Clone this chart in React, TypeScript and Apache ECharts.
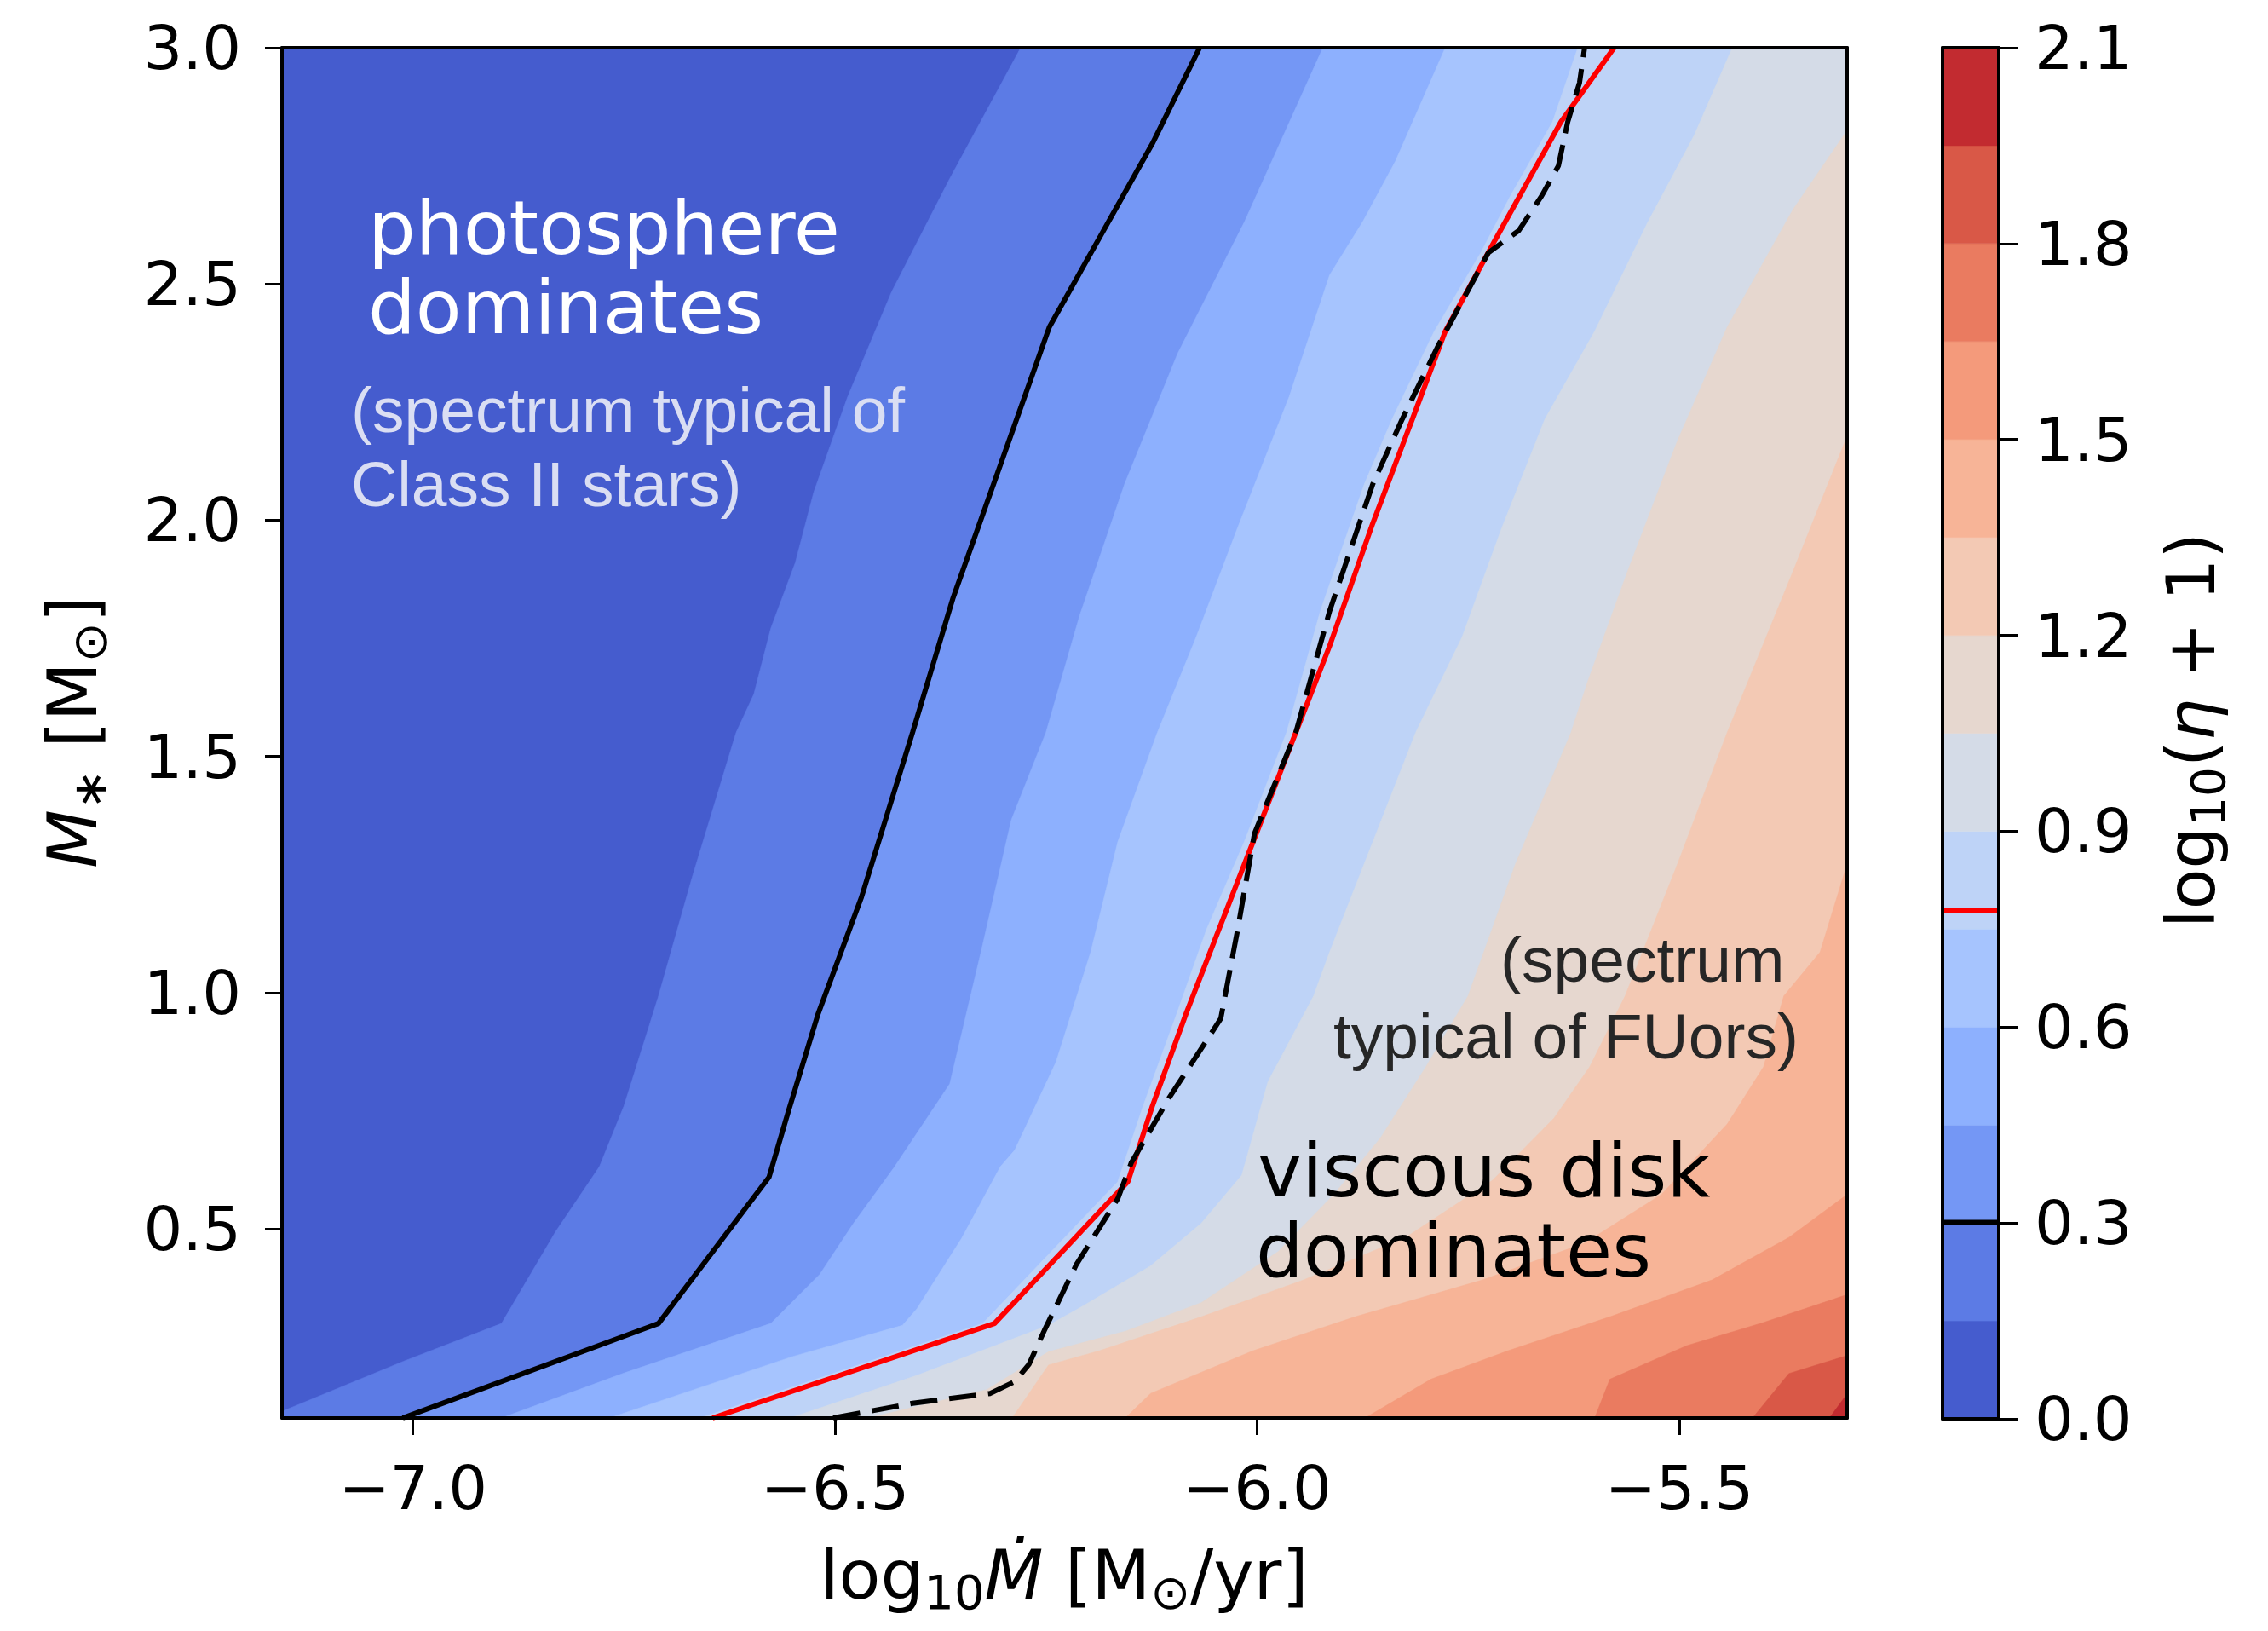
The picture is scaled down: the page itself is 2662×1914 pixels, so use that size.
import React, { useEffect, useRef } from "react";
import * as echarts from "echarts";

// ---- axes ranges ----
const X_MIN = -7.155; // log10(7e-8)
const X_MAX = -5.301; // log10(5e-6)
const Y_MIN = 0.1;
const Y_MAX = 3.0;

// ---- tick labels ----
const X_TICKS = [-7.0, -6.5, -6.0, -5.5];
const Y_TICKS = [0.5, 1.0, 1.5, 2.0, 2.5, 3.0];
const CBAR_TICKS = [0.0, 0.3, 0.6, 0.9, 1.2, 1.5, 1.8, 2.1];

// ---- contour levels of log10(eta+1) and their colours (coolwarm) ----
const LEVELS = [0, 0.15, 0.3, 0.45, 0.6, 0.75, 0.9, 1.05, 1.2, 1.35, 1.5, 1.65, 1.8, 1.95, 2.1];
const BAND_COLORS = [
  "#455cce", "#5c7be5", "#7497f5", "#8db0fe", "#a6c4fe", "#bed3f7", "#d4dbe7",
  "#e6d7cf", "#f3c9b4", "#f7b497", "#f49a7b", "#ea7b60", "#d95847", "#c22b30",
];

// highlighted contour levels
const ETA1_LEVEL = 0.301; // log10(1+1)
const ETA5_LEVEL = 0.778; // log10(5+1)

// ---- highlighted contours (log10 Mdot, M*) ----
const CONTOUR_ETA1 = [
  [-7.012, 0.1], [-6.709, 0.3], [-6.578, 0.61], [-6.555, 0.75], [-6.52, 0.955], [-6.469, 1.2],
  [-6.408, 1.551], [-6.36, 1.836], [-6.303, 2.122], [-6.246, 2.409], [-6.185, 2.603],
  [-6.124, 2.797], [-6.068, 3.0],
];
const CONTOUR_ETA5 = [
  [-6.645, 0.1], [-6.311, 0.3], [-6.153, 0.6], [-6.124, 0.76], [-6.084, 0.956], [-6.015, 1.272],
  [-5.954, 1.551], [-5.914, 1.734], [-5.863, 1.993], [-5.816, 2.214], [-5.777, 2.4],
  [-5.718, 2.593], [-5.64, 2.843], [-5.577, 3.0],
];
const CONTOUR_DASHED = [
  [-6.502, 0.1], [-6.408, 0.131], [-6.316, 0.152], [-6.287, 0.177], [-6.27, 0.214], [-6.252, 0.285],
  [-6.214, 0.425], [-6.165, 0.564], [-6.149, 0.64], [-6.104, 0.778], [-6.043, 0.945],
  [-6.023, 1.133], [-6.003, 1.337], [-5.954, 1.551], [-5.914, 1.808], [-5.863, 2.076],
  [-5.828, 2.214], [-5.785, 2.371], [-5.726, 2.566], [-5.69, 2.613], [-5.663, 2.686],
  [-5.643, 2.75], [-5.632, 2.843], [-5.618, 2.926], [-5.612, 3.0],
];

// ---- filled-contour boundaries, from bottom/left end to top/right end ----
const B_015 = [
  [-7.155, 0.114], [-7.011, 0.22], [-6.895, 0.3], [-6.831, 0.494], [-6.779, 0.632], [-6.75, 0.76],
  [-6.709, 0.993], [-6.669, 1.245], [-6.617, 1.551], [-6.596, 1.632], [-6.576, 1.771],
  [-6.547, 1.91], [-6.525, 2.06], [-6.485, 2.261], [-6.433, 2.483], [-6.364, 2.723], [-6.28, 3.0],
];
const B_030 = CONTOUR_ETA1;
const B_045 = [
  [-6.895, 0.1], [-6.75, 0.195], [-6.576, 0.3], [-6.518, 0.404], [-6.478, 0.512], [-6.43, 0.63],
  [-6.364, 0.807], [-6.327, 1.086], [-6.291, 1.366], [-6.25, 1.551], [-6.21, 1.799],
  [-6.157, 2.076], [-6.094, 2.353], [-6.015, 2.631], [-5.922, 3.0],
];
const B_060 = [
  [-6.767, 0.1], [-6.55, 0.23], [-6.42, 0.296], [-6.403, 0.331], [-6.35, 0.48], [-6.304, 0.632],
  [-6.287, 0.667], [-6.238, 0.854], [-6.197, 1.086], [-6.165, 1.319], [-6.118, 1.551],
  [-6.072, 1.753], [-6.023, 1.984], [-5.962, 2.261], [-5.914, 2.519], [-5.875, 2.631],
  [-5.836, 2.76], [-5.777, 3.0],
];
const B_075 = [
  [-6.66, 0.1], [-6.325, 0.3], [-6.165, 0.6], [-6.135, 0.76], [-6.095, 0.956], [-6.06, 1.133],
  [-6.015, 1.32], [-5.965, 1.551], [-5.925, 1.808], [-5.873, 2.076], [-5.84, 2.214],
  [-5.79, 2.4], [-5.735, 2.566], [-5.7, 2.686], [-5.65, 2.843], [-5.62, 3.0],
];
const B_090 = [
  [-6.553, 0.1], [-6.403, 0.19], [-6.247, 0.296], [-6.211, 0.332], [-6.126, 0.422], [-6.066, 0.512],
  [-6.018, 0.614], [-5.987, 0.812], [-5.933, 0.993], [-5.914, 1.086], [-5.812, 1.551],
  [-5.757, 1.753], [-5.71, 1.984], [-5.659, 2.214], [-5.6, 2.4], [-5.537, 2.631],
  [-5.482, 2.815], [-5.437, 3.0],
];
const B_105 = [
  [-6.46, 0.1], [-6.32, 0.16], [-6.247, 0.24], [-6.155, 0.284], [-6.066, 0.344], [-5.975, 0.452],
  [-5.909, 0.573], [-5.854, 0.692], [-5.8, 0.843], [-5.75, 0.993], [-5.694, 1.272],
  [-5.628, 1.551], [-5.608, 1.66], [-5.561, 1.892], [-5.502, 2.168], [-5.443, 2.409],
  [-5.365, 2.658], [-5.301, 2.825],
];
const B_120 = [
  [-6.29, 0.1], [-6.247, 0.212], [-6.187, 0.242], [-6.066, 0.314], [-5.945, 0.392], [-5.824, 0.482],
  [-5.721, 0.603], [-5.648, 0.735], [-5.606, 0.843], [-5.564, 0.993], [-5.502, 1.272],
  [-5.443, 1.551], [-5.365, 1.892], [-5.301, 2.178],
];
const B_135 = [
  [-6.156, 0.1], [-6.126, 0.152], [-6.005, 0.242], [-5.884, 0.314], [-5.733, 0.392], [-5.612, 0.47],
  [-5.521, 0.573], [-5.443, 0.722], [-5.4, 0.843], [-5.376, 0.993], [-5.333, 1.086], [-5.301, 1.272],
];
const B_150 = [
  [-5.872, 0.1], [-5.794, 0.182], [-5.703, 0.242], [-5.582, 0.314], [-5.461, 0.392], [-5.37, 0.482],
  [-5.301, 0.573],
];
const B_165 = [[-5.6, 0.1], [-5.582, 0.182], [-5.491, 0.253], [-5.4, 0.302], [-5.301, 0.361]];
const B_180 = [[-5.413, 0.1], [-5.37, 0.194], [-5.301, 0.232]];
const B_195 = [[-5.322, 0.1], [-5.301, 0.151]];

const BOUNDARIES = [B_015, B_030, B_045, B_060, B_075, B_090, B_105, B_120, B_135, B_150, B_165, B_180, B_195];

// ---- helpers: region of higher values (right / below a boundary) ----
function perimS(p: number[]) {
  const [x, y] = p;
  const W = X_MAX - X_MIN;
  const H = Y_MAX - Y_MIN;
  const d = [Math.abs(y - Y_MAX) / H, Math.abs(x - X_MAX) / W, Math.abs(y - Y_MIN) / H, Math.abs(x - X_MIN) / W];
  let k = 0;
  for (let j = 1; j < 4; j++) if (d[j] < d[k]) k = j;
  if (k === 0) return (x - X_MIN) / W;
  if (k === 1) return 1 + (Y_MAX - y) / H;
  if (k === 2) return 2 + (X_MAX - x) / W;
  return 3 + (y - Y_MIN) / H;
}
const CORNERS: [number, number[]][] = [
  [1, [X_MAX, Y_MAX]],
  [2, [X_MAX, Y_MIN]],
  [3, [X_MIN, Y_MIN]],
];
function regionAbove(b: number[][]) {
  const sEnd = perimS(b[b.length - 1]);
  const sStart = perimS(b[0]);
  const pts = b.slice();
  for (const [s, c] of CORNERS) if (s > sEnd && s < sStart) pts.push(c);
  return pts;
}

const FONT = "DejaVu Sans";
const ARIAL = "Liberation Sans";

export default function App() {
  const ref = useRef<HTMLDivElement>(null);
  useEffect(() => {
    document.body.style.margin = "0";
    const chart = echarts.init(ref.current!, null, { renderer: "svg" });

    const axisLineStyle = { color: "#000", width: 4 };
    const tickLabel = { fontSize: 72, fontFamily: FONT, color: "#000" };
    const fmt1 = (v: number) => (v < 0 ? "\u2212" : "") + Math.abs(v).toFixed(1);

    const frameAxis = (gridIndex: number, position: string, min: number, max: number) => ({
      gridIndex, type: "value", position, min, max, z: 10,
      axisLine: { show: true, onZero: false, lineStyle: axisLineStyle },
      axisTick: { show: false }, axisLabel: { show: false }, splitLine: { show: false },
    });

    const labelRich = (size: number) => ({
      a: { fontSize: size, fontFamily: FONT, fill: "#000", lineHeight: size, verticalAlign: "top" },
      i: { fontSize: size, fontFamily: FONT, fontStyle: "italic", fill: "#000", lineHeight: size, verticalAlign: "top" },
      s: { fontSize: Math.round(size * 0.7), fontFamily: FONT, fill: "#000", lineHeight: Math.round(size * 0.7), padding: [Math.round(size * 0.4), 0, 0, 0], verticalAlign: "top" },
    });

    const option: any = {
      animation: false,
      backgroundColor: "#fff",
      grid: [
        { left: 331, top: 56, width: 1837, height: 1608 },
        { left: 2280, top: 56, width: 66, height: 1609 },
      ],
      xAxis: [
        {
          gridIndex: 0, type: "value", position: "bottom", min: X_MIN, max: X_MAX, z: 10,
          axisLine: { show: true, onZero: false, lineStyle: axisLineStyle },
          axisTick: { show: true, length: 20, lineStyle: { color: "#000", width: 3 }, customValues: X_TICKS },
          axisLabel: { ...tickLabel, margin: 46, customValues: X_TICKS, formatter: fmt1 },
          splitLine: { show: false },
        },
        frameAxis(0, "top", X_MIN, X_MAX),
        frameAxis(1, "bottom", 0, 1),
        frameAxis(1, "top", 0, 1),
      ],
      yAxis: [
        {
          gridIndex: 0, type: "value", position: "left", min: Y_MIN, max: Y_MAX, z: 10,
          axisLine: { show: true, onZero: false, lineStyle: axisLineStyle },
          axisTick: { show: true, length: 20, lineStyle: { color: "#000", width: 3 }, customValues: Y_TICKS },
          axisLabel: { ...tickLabel, margin: 48, customValues: Y_TICKS, formatter: fmt1 },
          splitLine: { show: false },
        },
        frameAxis(0, "right", Y_MIN, Y_MAX),
        frameAxis(1, "left", LEVELS[0], LEVELS[LEVELS.length - 1]),
        {
          gridIndex: 1, type: "value", position: "right", min: LEVELS[0], max: LEVELS[LEVELS.length - 1], z: 10,
          axisLine: { show: true, onZero: false, lineStyle: axisLineStyle },
          axisTick: { show: true, length: 22, lineStyle: { color: "#000", width: 3 }, customValues: CBAR_TICKS },
          axisLabel: { ...tickLabel, margin: 42, customValues: CBAR_TICKS, formatter: fmt1 },
          splitLine: { show: false },
        },
      ],
      series: [
        {
          type: "custom", name: "filled contours", xAxisIndex: 0, yAxisIndex: 0, clip: true, silent: true,
          data: BAND_COLORS.map((_, i) => [X_MIN, Y_MIN, i]),
          encode: { x: 0, y: 1 },
          renderItem: (_p: any, api: any) => {
            const i = api.value(2);
            const pts = i === 0
              ? [[X_MIN, Y_MIN], [X_MAX, Y_MIN], [X_MAX, Y_MAX], [X_MIN, Y_MAX]]
              : regionAbove(BOUNDARIES[i - 1]);
            return {
              type: "polygon",
              shape: { points: pts.map((p) => api.coord(p)) },
              style: { fill: BAND_COLORS[i], stroke: BAND_COLORS[i], lineWidth: 0.6 },
            };
          },
        },
        {
          type: "line", name: "eta=1", xAxisIndex: 0, yAxisIndex: 0, data: CONTOUR_ETA1,
          symbol: "none", silent: true, z: 4, lineStyle: { color: "#000", width: 6 },
        },
        {
          type: "line", name: "eta=5", xAxisIndex: 0, yAxisIndex: 0, data: CONTOUR_ETA5,
          symbol: "none", silent: true, z: 4, lineStyle: { color: "#ff0000", width: 6 },
        },
        {
          type: "line", name: "dashed", xAxisIndex: 0, yAxisIndex: 0, data: CONTOUR_DASHED,
          symbol: "none", silent: true, z: 5, lineStyle: { color: "#000", width: 6, type: [32, 14] },
        },
        {
          type: "custom", name: "colorbar", xAxisIndex: 2, yAxisIndex: 3, clip: true, silent: true,
          data: BAND_COLORS.map((_, i) => [0, LEVELS[i], LEVELS[i + 1], i]),
          encode: { x: 0, y: [1, 2] },
          renderItem: (_p: any, api: any) => {
            const a = api.coord([0, api.value(1)]);
            const b = api.coord([1, api.value(2)]);
            const i = api.value(3);
            return {
              type: "rect",
              shape: { x: a[0], y: b[1], width: b[0] - a[0], height: a[1] - b[1] },
              style: { fill: BAND_COLORS[i], stroke: BAND_COLORS[i], lineWidth: 0.6 },
            };
          },
        },
        {
          type: "line", xAxisIndex: 2, yAxisIndex: 3, data: [[0, ETA1_LEVEL], [1, ETA1_LEVEL]],
          symbol: "none", silent: true, z: 4, lineStyle: { color: "#000", width: 6 },
        },
        {
          type: "line", xAxisIndex: 2, yAxisIndex: 3, data: [[0, ETA5_LEVEL], [1, ETA5_LEVEL]],
          symbol: "none", silent: true, z: 4, lineStyle: { color: "#ff0000", width: 6 },
        },
      ],
      graphic: [
        { type: "text", x: 432, y: 267, z: 100, style: { text: "photosphere", fill: "#ffffff", fontSize: 88, fontFamily: FONT, align: "left", verticalAlign: "middle" } },
        { type: "text", x: 432, y: 360, z: 100, style: { text: "dominates", fill: "#ffffff", fontSize: 88, fontFamily: FONT, align: "left", verticalAlign: "middle" } },
        { type: "text", x: 412, y: 481, z: 100, style: { text: "(spectrum typical of", fill: "#dadef3", fontSize: 75, fontFamily: ARIAL, align: "left", verticalAlign: "middle" } },
        { type: "text", x: 412, y: 568, z: 100, style: { text: "Class II stars)", fill: "#dadef3", fontSize: 75, fontFamily: ARIAL, align: "left", verticalAlign: "middle" } },
        { type: "text", x: 1761, y: 1126, z: 100, style: { text: "(spectrum", fill: "#262626", fontSize: 75, fontFamily: ARIAL, align: "left", verticalAlign: "middle" } },
        { type: "text", x: 1565, y: 1216, z: 100, style: { text: "typical of FUors)", fill: "#262626", fontSize: 75, fontFamily: ARIAL, align: "left", verticalAlign: "middle" } },
        { type: "text", x: 1476, y: 1373, z: 100, style: { text: "viscous disk", fill: "#000", fontSize: 88, fontFamily: FONT, align: "left", verticalAlign: "middle" } },
        { type: "text", x: 1474, y: 1467, z: 100, style: { text: "dominates", fill: "#000", fontSize: 88, fontFamily: FONT, align: "left", verticalAlign: "middle" } },
        // axis titles
        {
          type: "text", x: 1249, y: 1848, z: 100,
          style: { text: "{a|log}{s|10}{i|Ṁ}{a| [M}{s|⊙}{a|/yr]}", rich: labelRich(80), align: "center", verticalAlign: "middle" },
        },
        {
          type: "text", x: 85, y: 859, z: 100, rotation: Math.PI / 2,
          style: { text: "{i|M}{s|∗}{a| [M}{s|⊙}{a|]}", rich: labelRich(80), align: "center", verticalAlign: "middle" },
        },
        {
          type: "text", x: 2572, y: 857, z: 100, rotation: Math.PI / 2,
          style: { text: "{a|log}{s|10}{a|(}{i|η}{a| + 1)}", rich: labelRich(78), align: "center", verticalAlign: "middle" },
        },
      ],
    };
    chart.setOption(option);
    return () => chart.dispose();
  }, []);
  return <div ref={ref} style={{ width: 2662, height: 1914 }} />;
}
